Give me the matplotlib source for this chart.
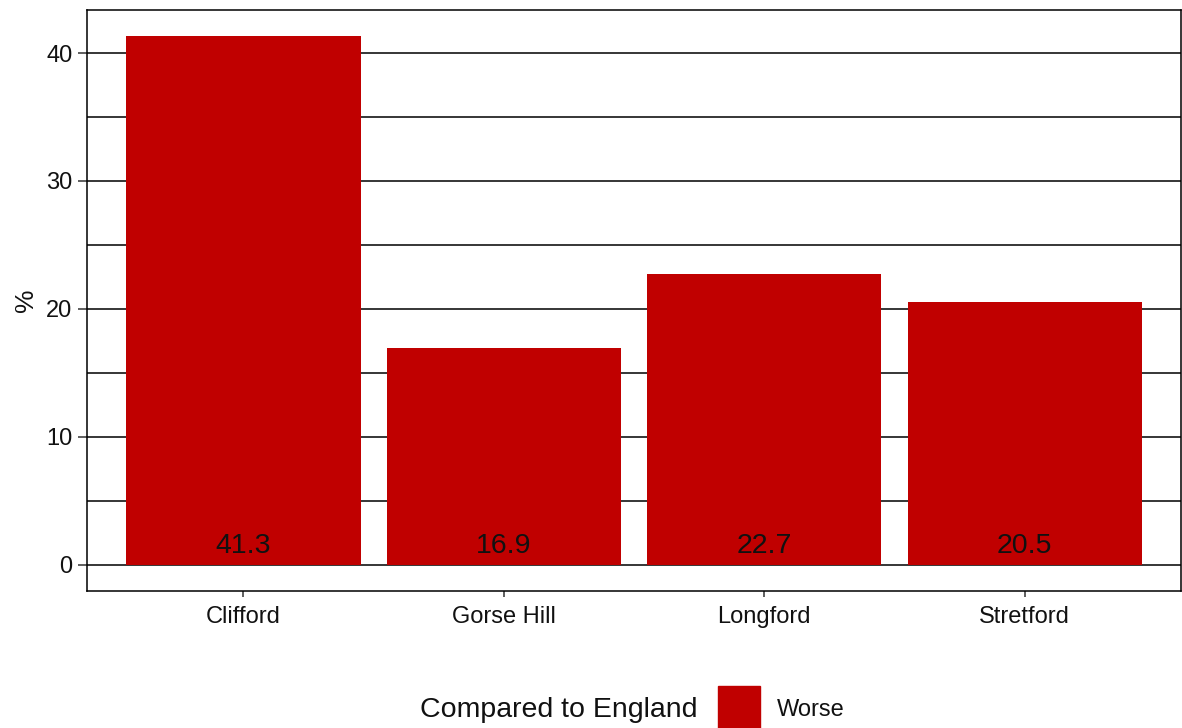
import matplotlib.pyplot as plt
from matplotlib.patches import Rectangle
import numpy as np

# data
areas = ["Clifford", "Gorse Hill", "Longford", "Stretford"]
pct = [41.3, 16.9, 22.7, 20.5]
groups = ["Worse", "Worse", "Worse", "Worse"]
group_colours = {"Worse": "#C00000"}
y_major = [0, 10, 20, 30, 40]
y_minor = [5, 15, 25, 35]

plt.rcParams['font.family'] = ['Liberation Sans', 'DejaVu Sans']

W, H = 1182, 728
fig = plt.figure(figsize=(W / 100, H / 100), dpi=100)
ax = fig.add_axes([87 / W, 1 - 591 / H, (1181 - 87) / W, (591 - 10) / H])

x = np.arange(1, len(areas) + 1)

# grid first, bars on top
for v in y_major + y_minor:
    ax.axhline(v, color="black", lw=1.1, zorder=1)

ax.bar(x, pct, width=0.9, color=[group_colours[g] for g in groups], zorder=2)

for xi, v in zip(x, pct):
    ax.annotate(f"{v}", (xi, 0), xytext=(0, 8), textcoords="offset points",
                ha="center", va="baseline", fontsize=20.5, color="#111111", zorder=3)

ymax = max(pct)
ax.set_xlim(0.4, len(areas) + 0.6)
ax.set_ylim(-0.05 * ymax, ymax * 1.05)
ax.set_xticks(x)
ax.set_xticklabels(areas)
ax.set_yticks(y_major)
ax.tick_params(axis="both", labelsize=17, labelcolor="#111111", color="#333333",
               width=1.1)
ax.tick_params(axis="x", length=4.5, pad=6)
ax.tick_params(axis="y", length=6.5, pad=4)
for s in ax.spines.values():
    s.set_color("black")
    s.set_linewidth(1.1)
ax.set_ylabel("%", fontsize=19, color="#111111", labelpad=6)

# legend laid out horizontally like ggplot's bottom legend
fig.text(420 / W, 1 - 710 / H, "Compared to England", fontsize=20.5, color="#111111",
         ha="left", va="center")
fig.patches.append(Rectangle((718 / W, 1 - 728 / H), 42 / W, 42 / H,
                             transform=fig.transFigure, color=group_colours["Worse"]))
fig.text(777 / W, 1 - 710 / H, "Worse", fontsize=17, color="#111111",
         ha="left", va="center")

fig.savefig("out.png", dpi=100)
